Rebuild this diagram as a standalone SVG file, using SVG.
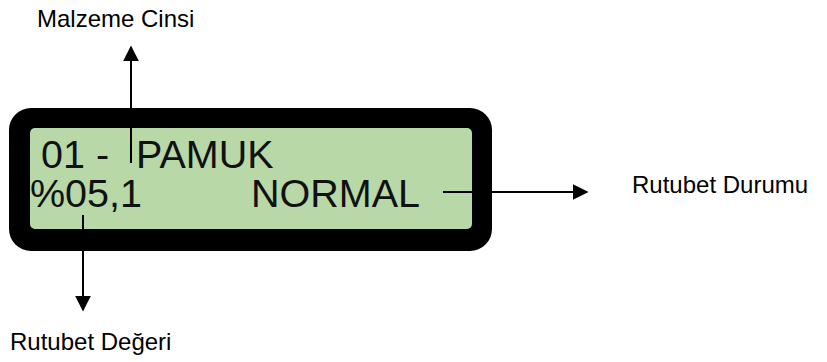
<svg xmlns="http://www.w3.org/2000/svg" width="827" height="362" viewBox="0 0 827 362">
<style>
.lbl{font-family:"Liberation Sans",Arial,sans-serif;font-size:24px;fill:#000}
.lcd{font-family:"Liberation Sans",Arial,sans-serif;font-size:39.5px;fill:#111}
.conn{stroke:#000;stroke-width:2;fill:none}
</style>
<defs>
<marker id="ah" viewBox="0 0 10 10" refX="9" refY="5" markerWidth="16" markerHeight="16" markerUnits="userSpaceOnUse" orient="auto">
<path d="M0,0 L10,5 L0,10 Z" fill="#000"/>
</marker>
</defs>
<rect width="827" height="362" fill="#fff"/>
<g id="lcd-display">
<rect x="9" y="108" width="483" height="143" rx="22" ry="22" fill="#000"/>
<rect x="30" y="128" width="442" height="101" rx="5" ry="5" fill="#b8d8a8"/>
<text class="lcd" x="41" y="168">01 -</text>
<text class="lcd" x="136" y="168">PAMUK</text>
<text class="lcd" x="30" y="207">%05,1</text>
<text class="lcd" x="251" y="207">NORMAL</text>
</g>
<g id="connectors">
<line class="conn" x1="131" y1="163" x2="131" y2="47" marker-end="url(#ah)"/>
<line class="conn" x1="83" y1="215" x2="83" y2="310" marker-end="url(#ah)"/>
<line class="conn" x1="443" y1="192" x2="587" y2="192" marker-end="url(#ah)"/>
</g>
<g id="label-malzeme"><text class="lbl" x="37" y="27">Malzeme Cinsi</text></g>
<g id="label-deger"><text class="lbl" x="10" y="350">Rutubet Değeri</text></g>
<g id="label-durum"><text class="lbl" x="632" y="193">Rutubet Durumu</text></g>
</svg>
